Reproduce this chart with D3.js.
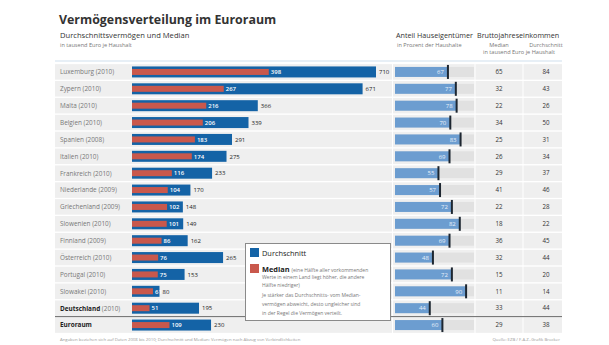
<!DOCTYPE html>
<html>
<head>
<meta charset="utf-8">
<script src="https://cdn.jsdelivr.net/npm/d3@7"></script>
<style>
  html, body { margin: 0; padding: 0; background: #fff; }
  svg { display: block; font-family: "Open Sans", "DejaVu Sans", sans-serif; }
</style>
</head>
<body>
<svg id="chart" width="609" height="345"></svg>
<script>
// Household wealth survey, euro area (thousand euro per household)
const countries = ["Luxemburg", "Zypern", "Malta", "Belgien", "Spanien", "Italien", "Frankreich",
  "Niederlande", "Griechenland", "Slowenien", "Finnland", "Österreich", "Portugal", "Slowakei",
  "Deutschland", "Euroraum"];
const surveyYears = ["2010", "2010", "2010", "2010", "2008", "2010", "2010", "2009", "2009", "2010",
  "2009", "2010", "2010", "2010", "2010", ""];
const meanWealth = [710, 671, 366, 339, 291, 275, 233, 170, 148, 149, 162, 265, 153, 80, 195, 230];
const medianWealth = [398, 267, 216, 206, 183, 174, 116, 104, 102, 101, 86, 76, 75, 61, 51, 109];
// share of home owners, percent of households
const ownerShare = [67, 77, 78, 70, 83, 69, 55, 57, 72, 82, 69, 48, 72, 90, 44, 60];
// gross annual income, thousand euro per household
const incomeMedian = [65, 32, 22, 34, 25, 26, 29, 41, 22, 18, 36, 32, 15, 11, 33, 29];
const incomeMean = [84, 43, 26, 50, 31, 34, 37, 46, 28, 22, 45, 44, 20, 14, 44, 38];

const rows = countries.map((c, i) => ({
  country: c, year: surveyYears[i], mean: meanWealth[i], median: medianWealth[i],
  owner: ownerShare[i], incMed: incomeMedian[i], incMean: incomeMean[i]
}));

const BLUE = "#1463a6", RED = "#c9584c", LIGHTBLUE = "#6c9dd0", TRACK = "#e1e1e1",
      BAND = "#efefef", TEXT = "#333", GREY = "#777";
const left = 55, right = 562;

const svg = d3.select("#chart");

const y = d3.scaleBand().domain(countries).range([63.5, 333.5]).paddingInner(0.08).paddingOuter(0.04);
const xW = d3.scaleLinear().domain([0, 710]).range([132, 376]);
const xO = d3.scaleLinear().domain([0, 100]).range([395, 474]);
const colMed = 499, colMean = 546;

// headers
svg.append("text").attr("x", 59).attr("y", 24).attr("font-size", 12.4).attr("font-weight", 700)
  .attr("fill", "#333").text("Vermögensverteilung im Euroraum");
svg.append("text").attr("x", 60).attr("y", 38).attr("font-size", 7.6).attr("fill", TEXT)
  .text("Durchschnittsvermögen und Median");
svg.append("text").attr("x", 60).attr("y", 46.5).attr("font-size", 5.6).attr("fill", GREY)
  .text("in tausend Euro je Haushalt");

svg.append("text").attr("x", 396).attr("y", 38).attr("font-size", 7.2).attr("fill", TEXT)
  .text("Anteil Hauseigentümer");
svg.append("text").attr("x", 397).attr("y", 46.5).attr("font-size", 5.6).attr("fill", GREY)
  .text("in Prozent der Haushalte");
svg.append("text").attr("x", 477).attr("y", 38).attr("font-size", 7.2).attr("fill", TEXT)
  .text("Bruttojahreseinkommen");
svg.append("text").attr("x", colMed).attr("y", 46.5).attr("font-size", 5.6).attr("fill", GREY)
  .attr("text-anchor", "middle").text("Median");
svg.append("text").attr("x", colMean).attr("y", 46.5).attr("font-size", 5.6).attr("fill", GREY)
  .attr("text-anchor", "middle").text("Durchschnitt");
svg.append("text").attr("x", 519).attr("y", 54).attr("font-size", 5.6).attr("fill", GREY)
  .attr("text-anchor", "middle").text("in tausend Euro je Haushalt");

svg.append("line").attr("x1", left).attr("x2", right).attr("y1", 61).attr("y2", 61)
  .attr("stroke", "#cfe0ee").attr("stroke-width", 1.2);

// row bands for each column block
const blocks = [[left, 392], [393, 474.5], [475.5, 522.5], [523.5, right]];
const g = svg.append("g");
rows.forEach(d => {
  blocks.forEach(([a, b]) => {
    g.append("rect").attr("x", a).attr("y", y(d.country)).attr("width", b - a)
      .attr("height", y.bandwidth()).attr("fill", BAND);
  });
});

const rowG = svg.selectAll("g.row").data(rows).join("g").attr("class", "row")
  .attr("transform", d => `translate(0,${y(d.country) + y.bandwidth() / 2})`);

// country labels
rowG.each(function (d) {
  const t = d3.select(this).append("text").attr("x", 60).attr("y", 2.3).attr("font-size", 6.4);
  const bold = d.country === "Deutschland" || d.country === "Euroraum";
  t.append("tspan").attr("fill", bold ? "#222" : GREY).attr("font-weight", bold ? 700 : 400)
    .text(d.country);
  if (d.year) t.append("tspan").attr("fill", GREY).text(` (${d.year})`);
});

// wealth bars: mean (blue) with median (red) inside
rowG.append("rect").attr("x", xW(0)).attr("y", -5.5).attr("height", 11)
  .attr("width", d => xW(d.mean) - xW(0)).attr("fill", BLUE);
rowG.append("rect").attr("x", xW(0)).attr("y", -3).attr("height", 6)
  .attr("width", d => xW(d.median) - xW(0)).attr("fill", RED);
rowG.append("text").attr("x", d => xW(d.median) + 2).attr("y", 2.2).attr("font-size", 6)
  .attr("font-weight", 600).attr("fill", "#fff").text(d => d.median);
rowG.append("text").attr("x", d => xW(d.mean) + 3).attr("y", 2.2).attr("font-size", 6)
  .attr("fill", "#222").text(d => d.mean);

// home ownership bars
rowG.append("rect").attr("x", xO(0)).attr("y", -5).attr("height", 10)
  .attr("width", xO(100) - xO(0)).attr("fill", TRACK);
rowG.append("rect").attr("x", xO(0)).attr("y", -5).attr("height", 10)
  .attr("width", d => xO(d.owner) - xO(0)).attr("fill", LIGHTBLUE);
rowG.append("rect").attr("x", d => xO(d.owner) - 1).attr("y", -7).attr("height", 14)
  .attr("width", 2).attr("fill", "#1d2630");
rowG.append("text").attr("x", d => xO(d.owner) - 4).attr("y", 2.2).attr("font-size", 6)
  .attr("text-anchor", "end").attr("fill", "#e8f0fa").text(d => d.owner);

// income figures
rowG.append("text").attr("x", colMed).attr("y", 2.2).attr("font-size", 6.2)
  .attr("text-anchor", "middle").attr("fill", TEXT).text(d => d.incMed);
rowG.append("text").attr("x", colMean).attr("y", 2.2).attr("font-size", 6.2)
  .attr("text-anchor", "middle").attr("fill", TEXT).text(d => d.incMean);

// rule above the euro area total
const yEA = y("Euroraum") - (y.step() - y.bandwidth()) / 2;
svg.append("line").attr("x1", left).attr("x2", right).attr("y1", yEA).attr("y2", yEA)
  .attr("stroke", "#666").attr("stroke-width", 1);

// legend
const lg = svg.append("g");
lg.append("rect").attr("x", 245.5).attr("y", 243.5).attr("width", 145).attr("height", 77)
  .attr("fill", "#fff").attr("stroke", "#8a8a8a").attr("stroke-width", 1);
lg.append("rect").attr("x", 250).attr("y", 248).attr("width", 9).attr("height", 9).attr("fill", BLUE);
lg.append("text").attr("x", 262).attr("y", 255.5).attr("font-size", 7.4).attr("fill", "#222")
  .text("Durchschnitt");
lg.append("rect").attr("x", 250).attr("y", 264).attr("width", 9).attr("height", 9).attr("fill", RED);
const legendLines = [
  "Werte in einem Land liegt höher, die andere",
  "Hälfte niedriger)",
  "Je stärker das Durchschnitts- vom Median-",
  "vermögen abweicht, desto ungleicher sind",
  "in der Regel die Vermögen verteilt."
];
const first = lg.append("text").attr("x", 262).attr("y", 271.5);
first.append("tspan").attr("font-size", 7.4).attr("font-weight", 700).attr("fill", "#222").text("Median ");
first.append("tspan").attr("font-size", 5).attr("fill", GREY).text("(eine Hälfte aller vorkommenden");
lg.selectAll("text.ll").data(legendLines).join("text").attr("class", "ll")
  .attr("x", 262).attr("y", (d, i) => [279, 287, 297, 306, 315][i])
  .attr("font-size", 5).attr("fill", GREY).text(d => d);

// footnotes
svg.append("text").attr("x", 60).attr("y", 341).attr("font-size", 4.3).attr("fill", "#999")
  .text("Angaben beziehen sich auf Daten 2008 bis 2010; Durchschnitt und Median: Vermögen nach Abzug von Verbindlichkeiten");
svg.append("text").attr("x", 560).attr("y", 341).attr("font-size", 4.3).attr("fill", "#999")
  .attr("text-anchor", "end").text("Quelle: EZB / F.A.Z.-Grafik Brocker");
</script>
</body>
</html>
